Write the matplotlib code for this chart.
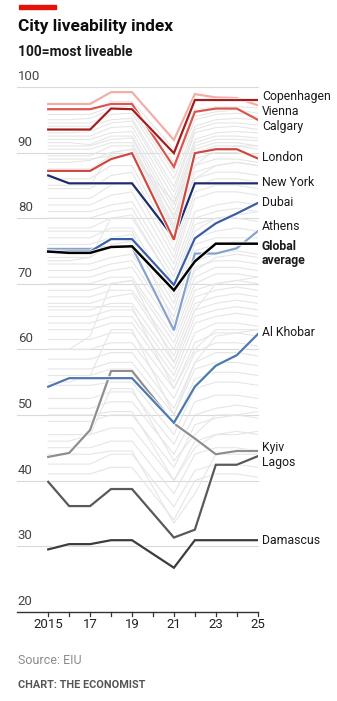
import matplotlib
matplotlib.use("Agg")
import matplotlib.pyplot as plt
import matplotlib.patheffects as pe

plt.rcParams['font.family'] = ['Roboto', 'DejaVu Sans']

years = [2015, 2016, 2017, 2018, 2019, 2021, 2022, 2023, 2024, 2025]
tick_years = [2015, 2017, 2019, 2021, 2023, 2025]
tick_labels = ["2015", "17", "19", "21", "23", "25"]
y_ticks = [20, 30, 40, 50, 60, 70, 80, 90, 100]

copenhagen = [93.5, 93.5, 93.5, 96.7, 96.6, 89.9, 98.0, 98.0, 98.0, 98.0]
vienna     = [97.4, 97.4, 97.4, 99.2, 99.2, 91.9, 98.9, 98.4, 98.3, 97.2]
calgary    = [96.6, 96.6, 96.6, 97.4, 97.4, 87.8, 96.2, 96.7, 96.7, 95.0]
london     = [87.2, 87.2, 87.2, 89.0, 89.9, 76.7, 89.9, 90.5, 90.5, 89.1]
new_york   = [86.5, 85.3, 85.3, 85.3, 85.3, 77.0, 85.3, 85.3, 85.3, 85.3]
dubai      = [74.9, 74.9, 74.9, 76.8, 76.8, 69.8, 76.9, 79.2, 80.7, 82.3]
athens     = [75.3, 75.3, 75.3, 75.6, 75.6, 62.9, 74.6, 74.6, 75.4, 78.0]
global_avg = [74.9, 74.7, 74.7, 75.6, 75.7, 69.0, 73.4, 76.1, 76.1, 76.1]
al_khobar  = [54.3, 55.6, 55.6, 55.6, 55.6, 48.8, 54.3, 57.5, 59.1, 62.3]
kyiv       = [43.6, 44.2, 47.7, 56.7, 56.7, 48.7, 46.4, 44.0, 44.5, 44.5]
lagos      = [39.8, 36.1, 36.1, 38.7, 38.7, 31.3, 32.5, 42.4, 42.4, 43.7]
damascus   = [29.5, 30.3, 30.3, 30.9, 30.9, 26.7, 30.9, 30.9, 30.9, 30.9]

other_cities = [
    [96.5, 96.5, 96.5, 97.8, 97.8, 90.5, 96.5, 97.0, 97.0, 96.8],
    [95.8, 95.8, 95.8, 97.0, 97.0, 88.5, 95.5, 96.2, 96.5, 96.0],
    [95.0, 95.0, 95.2, 96.5, 96.5, 87.0, 95.0, 95.8, 96.0, 95.5],
    [94.5, 94.5, 94.5, 95.8, 96.0, 86.0, 94.0, 95.0, 95.2, 95.0],
    [94.0, 94.0, 94.0, 95.0, 95.2, 84.8, 93.5, 94.5, 94.5, 94.2],
    [93.0, 93.0, 93.2, 94.5, 94.8, 84.0, 93.0, 93.8, 94.0, 93.5],
    [92.5, 92.5, 92.5, 93.8, 94.0, 83.0, 92.0, 93.0, 93.2, 93.0],
    [92.0, 92.0, 92.0, 93.0, 93.2, 82.0, 91.5, 92.5, 92.5, 92.2],
    [91.5, 91.5, 91.2, 92.5, 92.5, 81.2, 91.0, 92.0, 92.0, 91.8],
    [91.0, 91.0, 91.0, 92.0, 92.2, 80.0, 90.5, 91.5, 91.5, 91.0],
    [90.5, 90.5, 90.5, 91.5, 91.5, 79.0, 90.0, 91.0, 91.0, 90.5],
    [89.5, 89.5, 89.5, 91.0, 91.0, 78.5, 89.0, 90.0, 90.0, 89.5],
    [88.5, 88.5, 88.8, 90.0, 90.5, 78.0, 88.0, 89.0, 89.0, 88.5],
    [87.5, 87.5, 87.5, 89.5, 89.5, 77.0, 87.0, 88.0, 88.5, 88.0],
    [86.0, 86.0, 86.0, 88.0, 88.0, 76.0, 86.0, 87.0, 87.0, 86.5],
    [84.5, 84.5, 84.5, 86.5, 87.0, 75.0, 85.0, 86.0, 86.0, 85.5],
    [83.0, 83.0, 83.0, 85.0, 85.5, 74.0, 84.0, 85.0, 85.0, 84.5],
    [82.0, 82.0, 82.0, 83.5, 84.0, 73.0, 83.0, 84.0, 84.0, 83.5],
    [81.0, 81.0, 81.0, 82.0, 82.5, 72.0, 81.0, 82.0, 82.5, 82.0],
    [80.0, 80.0, 80.0, 81.0, 81.5, 71.0, 80.0, 81.0, 81.5, 81.0],
    [78.5, 78.5, 78.5, 80.0, 80.0, 70.0, 79.0, 80.0, 80.0, 79.5],
    [77.0, 77.0, 77.0, 78.5, 78.5, 68.0, 77.0, 78.0, 78.5, 78.0],
    [76.0, 76.0, 76.0, 77.0, 77.5, 67.0, 76.0, 77.0, 77.0, 77.0],
    [74.0, 74.0, 74.0, 76.0, 76.5, 66.0, 75.0, 76.0, 76.5, 76.0],
    [73.0, 73.0, 73.0, 74.0, 74.5, 65.0, 73.5, 74.5, 75.0, 74.5],
    [72.0, 72.0, 72.0, 73.0, 73.5, 64.0, 72.5, 73.5, 73.5, 73.0],
    [71.0, 71.0, 71.0, 72.0, 72.5, 63.0, 71.0, 72.5, 72.5, 72.0],
    [70.0, 70.0, 70.0, 71.0, 71.0, 62.0, 70.0, 71.5, 71.5, 71.0],
    [69.0, 69.0, 69.0, 70.0, 70.5, 61.0, 69.0, 70.0, 70.5, 70.0],
    [68.0, 68.0, 68.0, 69.0, 69.0, 60.0, 68.0, 69.0, 69.5, 69.0],
    [67.0, 67.0, 67.0, 68.0, 68.5, 59.0, 67.0, 68.0, 68.5, 68.0],
    [66.0, 66.0, 66.0, 67.0, 67.0, 58.0, 66.0, 67.0, 67.5, 67.0],
    [65.0, 65.0, 65.0, 66.0, 66.0, 57.0, 65.0, 66.0, 66.5, 66.0],
    [64.0, 64.0, 64.0, 65.0, 65.0, 56.0, 64.0, 65.0, 65.5, 65.0],
    [63.0, 63.0, 63.0, 64.0, 64.0, 55.0, 62.5, 64.0, 64.0, 63.5],
    [61.5, 61.5, 61.5, 62.5, 62.5, 54.0, 61.0, 62.5, 62.5, 62.0],
    [60.0, 60.0, 60.0, 61.0, 61.0, 52.5, 59.5, 61.0, 61.0, 60.5],
    [58.5, 58.5, 58.5, 59.5, 59.5, 51.0, 58.0, 59.5, 59.5, 59.0],
    [57.0, 57.0, 57.0, 58.0, 58.0, 50.0, 57.0, 58.0, 58.0, 57.5],
    [56.0, 56.0, 56.0, 57.0, 57.0, 48.5, 55.5, 56.5, 56.5, 56.0],
    [54.5, 54.5, 54.5, 55.0, 55.0, 47.0, 54.0, 55.0, 55.0, 54.5],
    [52.5, 52.5, 52.5, 53.5, 53.5, 45.5, 52.0, 53.0, 53.0, 52.5],
    [51.0, 51.0, 51.0, 52.0, 52.0, 44.0, 50.0, 51.0, 51.5, 51.0],
    [49.0, 49.0, 49.0, 50.0, 50.0, 42.0, 48.5, 49.5, 50.0, 49.5],
    [47.0, 47.0, 47.0, 48.0, 48.0, 40.0, 46.0, 47.0, 47.5, 47.0],
    [45.0, 45.0, 45.0, 46.0, 46.0, 38.0, 44.0, 45.0, 45.0, 44.5],
    [42.5, 42.5, 42.5, 44.0, 44.0, 36.0, 41.5, 42.5, 42.5, 42.0],
    [41.0, 41.0, 41.0, 42.0, 42.0, 34.0, 40.0, 41.0, 41.0, 40.5],
    [60.0, 60.0, 62.0, 70.0, 70.5, 58.0, 66.0, 70.0, 70.5, 71.0],
    [55.0, 55.0, 56.0, 63.0, 63.0, 50.0, 58.0, 62.0, 62.5, 63.0],
    [73.5, 73.5, 74.0, 80.0, 80.5, 70.0, 78.0, 80.0, 80.5, 81.0],
    [85.0, 85.0, 85.0, 90.0, 90.5, 80.5, 86.0, 88.0, 88.5, 88.0],
    [46.0, 46.0, 47.0, 54.0, 54.0, 43.0, 47.0, 50.0, 50.0, 50.5],
    [66.5, 66.5, 66.5, 66.5, 66.5, 54.0, 60.0, 63.0, 63.0, 63.0],
    [78.0, 78.0, 78.0, 78.0, 78.0, 64.0, 72.0, 74.0, 74.5, 74.0],
    [44.0, 44.0, 44.0, 44.5, 44.5, 33.5, 38.0, 44.0, 44.0, 44.0],
    [50.0, 50.0, 50.0, 50.5, 50.5, 40.0, 45.0, 47.0, 47.0, 47.5],
    [89.0, 89.0, 89.0, 89.5, 89.5, 82.5, 88.0, 90.5, 91.0, 91.0],
]

fig = plt.figure(figsize=(3.37, 7.01), dpi=100)
ax = fig.add_axes([17/337, 1 - 611.7/701, (257.7 - 17)/337, (611.7 - 86.9)/701])
ax.set_xlim(2013.51, 2025)
ax.set_ylim(20, 100)
ax.axis('off')

# gridlines
for v in y_ticks[1:]:
    ax.axhline(v, color='#d9d9d9', lw=0.8, zorder=1, clip_on=False)
for v in y_ticks:
    ax.text(2013.55, v + 0.6, str(v), fontsize=9.5, color='#444444',
            ha='left', va='bottom')
ax.axhline(20, color='#333333', lw=1.0, zorder=5, clip_on=False)
for yr in range(2015, 2026):
    ax.plot([yr, yr], [20, 19.35], color='#333333', lw=0.9, clip_on=False, zorder=5)
for yr, lab in zip(tick_years, tick_labels):
    ax.text(yr, 18.0, lab, fontsize=9.5, color='#222222', ha='center', va='center')

# grey background cities
for series in other_cities:
    ax.plot(years, series, color='#e6e6e6', lw=0.8, zorder=2)

highlight = [
    ("Kyiv", kyiv, '#8e8e8e', 1.6),
    ("Lagos", lagos, '#595959', 1.6),
    ("Damascus", damascus, '#3d3d3d', 1.6),
    ("Al Khobar", al_khobar, '#4d78b0', 1.6),
    ("Athens", athens, '#86a3cc', 1.6),
    ("Dubai", dubai, '#3a5ea6', 1.6),
    ("New York", new_york, '#1d2c6b', 1.6),
    ("London", london, '#cc4a42', 1.6),
    ("Vienna", vienna, '#f2aea6', 1.6),
    ("Calgary", calgary, '#d9574f', 1.6),
    ("Copenhagen", copenhagen, '#a51c1c', 1.6),
    ("Global average", global_avg, '#000000', 1.8),
]
for name, vals, col, lw in highlight:
    ax.plot(years, vals, color=col, lw=lw, zorder=4, solid_joinstyle='miter',
            path_effects=[pe.Stroke(linewidth=lw + 1.2, foreground='white'), pe.Normal()])

labels = [
    ("Copenhagen", 98.5, 'normal'),
    ("Vienna", 96.2, 'normal'),
    ("Calgary", 93.9, 'normal'),
    ("London", 89.3, 'normal'),
    ("New York", 85.5, 'normal'),
    ("Dubai", 82.4, 'normal'),
    ("Athens", 78.7, 'normal'),
    ("Global\naverage", 74.6, 'bold'),
    ("Al Khobar", 62.5, 'normal'),
    ("Kyiv", 45.1, 'normal'),
    ("Lagos", 42.8, 'normal'),
    ("Damascus", 30.9, 'normal'),
]
for text, yv, w in labels:
    ax.text(2025.2, yv, text, fontsize=8.8, color='#1a1a1a', fontweight=w,
            ha='left', va='center', linespacing=1.05, clip_on=False)

# header
fig.patches.append(plt.Rectangle((19/337, 1 - 9/701), 37/337, 3.5/701,
                                 transform=fig.transFigure, color='#e3120b'))
fig.text(18/337, 1 - 26/701, "City liveability index", fontsize=12.4,
         fontweight='bold', color='#0d0d0d', ha='left', va='center')
fig.text(18/337, 1 - 52/701, "100=most liveable", fontsize=9.9,
         fontweight='bold', color='#1a1a1a', ha='left', va='center')
fig.text(18/337, 1 - 660/701, "Source: EIU", fontsize=9,
         color='#8a8a8a', ha='left', va='center')
fig.text(18/337, 1 - 685/701, "CHART: THE ECONOMIST", fontsize=7.8,
         fontweight='bold', color='#555555', ha='left', va='center')

fig.savefig("out.png", dpi=100, facecolor='white')
